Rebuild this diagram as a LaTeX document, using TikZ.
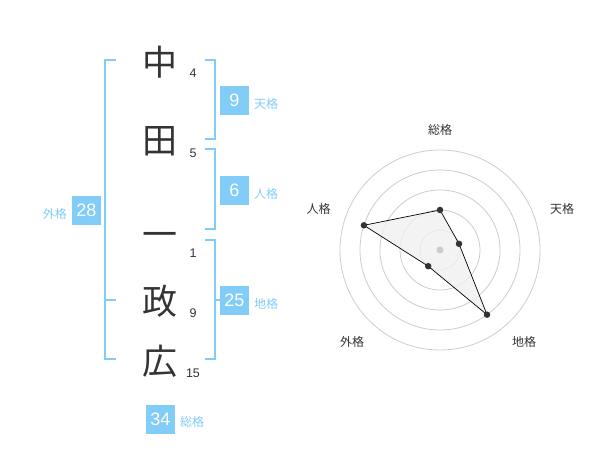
\documentclass[tikz,border=0pt]{standalone}
\usepackage{fontspec}
\setmainfont{Liberation Sans}
\newfontfamily\jp{Noto Sans CJK JP}
\definecolor{lblue}{RGB}{130,204,248}
\definecolor{dgray}{RGB}{51,51,51}
\definecolor{cgray}{RGB}{204,204,204}
\begin{document}
\begin{tikzpicture}[x=1pt,y=-1pt,
  kanji/.style={font=\jp\fontsize{35}{35}\selectfont, text=dgray, inner sep=0pt},
  stroke/.style={font=\fontsize{12.5}{12.5}\selectfont, text=dgray, inner sep=0pt},
  valbox/.style={fill=lblue, text=white, minimum width=29pt, minimum height=29pt, inner sep=0pt, font=\fontsize{18}{18}\selectfont},
  kaku/.style={font=\jp\fontsize{12}{12}\selectfont, text=lblue, inner sep=0pt},
  brk/.style={draw=lblue, line width=2pt},
  ring/.style={draw=cgray, line width=0.8pt},
  rlabel/.style={font=\jp\fontsize{12}{12}\selectfont, text=dgray, inner sep=0pt},
  dot/.style={circle, fill=dgray, inner sep=0pt, minimum size=6.5pt}
]
\useasboundingbox (0,0) rectangle (600,470);
% characters
\node[kanji] (c1) at (160,62) {中};
\node[kanji] (c2) at (160,141) {田};
\node[kanji] (c3) at (160,240) {一};
\node[kanji] (c4) at (160,301) {政};
\node[kanji] (c5) at (160,361) {広};
\node[stroke] (s1) at (193,73) {4};
\node[stroke] (s2) at (193,153) {5};
\node[stroke] (s3) at (193,253) {1};
\node[stroke] (s4) at (193,313) {9};
\node[stroke] (s5) at (193,373) {15};
% brackets
\draw[brk] (116,60) -- (105,60) -- (105,359.5) -- (116,359.5);
\draw[brk] (105,300) -- (116,300);
\draw[brk] (205,60) -- (214.5,60) -- (214.5,139.5) -- (205,139.5);
\draw[brk] (205,149.5) -- (214.5,149.5) -- (214.5,229.5) -- (205,229.5);
\draw[brk] (205,240) -- (214.5,240) -- (214.5,359.5) -- (205,359.5);
\draw[brk] (214.5,300) -- (220,300);
% value boxes
\node[valbox] (v9) at (234.5,100.5) {9};
\node[kaku,anchor=west] (k9) at (254,104) {天格};
\node[valbox] (v6) at (234.5,190.5) {6};
\node[kaku,anchor=west] (k6) at (254,194) {人格};
\node[valbox] (v25) at (234.5,300.5) {25};
\node[kaku,anchor=west] (k25) at (254,304) {地格};
\node[valbox] (v28) at (86.5,210.5) {28};
\node[kaku,anchor=east] (k28) at (67,213.5) {外格};
\node[valbox] (v34) at (160.5,419) {34};
\node[kaku,anchor=west] (k34) at (180,422) {総格};
% radar
\coordinate (cen) at (440,250);
\foreach \r in {20,40,60,80,100} \draw[ring] (cen) circle[radius=\r];
\coordinate (p1) at (440,210);
\coordinate (p2) at (459.0,243.8);
\coordinate (p3) at (487.0,314.7);
\coordinate (p4) at (428.2,266.2);
\coordinate (p5) at (363.9,225.3);
\fill[black!6, opacity=0.8] (p1) -- (p2) -- (p3) -- (p4) -- (p5) -- cycle;
\draw[black, line width=0.7pt] (p1) -- (p2) -- (p3) -- (p4) -- (p5) -- cycle;
\node[circle, fill=cgray, inner sep=0pt, minimum size=7pt] (cd) at (cen) {};
\foreach \p in {p1,p2,p3,p4,p5} \node[dot] at (\p) {};
\node[rlabel] (l1) at (440,130) {総格};
\node[rlabel] (l2) at (562,208.5) {天格};
\node[rlabel] (l3) at (524,341.5) {地格};
\node[rlabel] (l4) at (352,341.5) {外格};
\node[rlabel] (l5) at (318.5,208.5) {人格};
\end{tikzpicture}
\end{document}
